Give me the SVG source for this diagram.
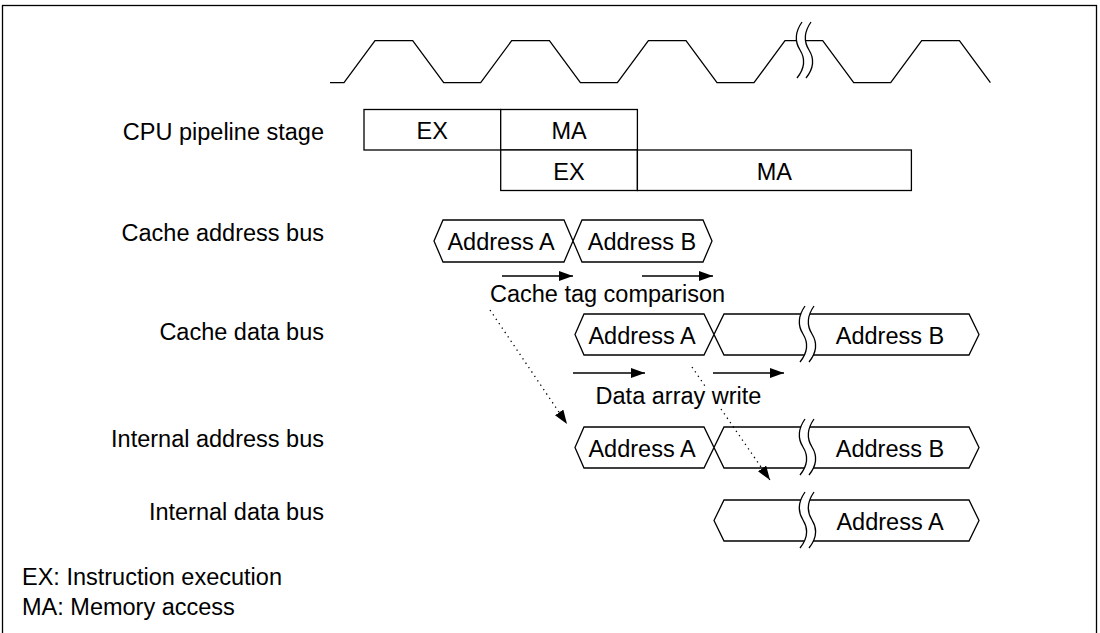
<svg xmlns="http://www.w3.org/2000/svg" width="1100" height="633" viewBox="0 0 1100 633">
<style>
  text { font-family: "Liberation Sans", Arial, sans-serif; font-size: 23.5px; fill: #000; }
  .lbl { text-anchor: end; }
  .c { text-anchor: middle; }
  .ln { fill: none; stroke: #000; stroke-width: 1.3; stroke-linejoin: miter; }
  .box { fill: #fff; stroke: #000; stroke-width: 1.3; }
  .dot { fill: none; stroke: #000; stroke-width: 1.3; stroke-dasharray: 1.3 4; }
  .arr { fill: none; stroke: #000; stroke-width: 1.3; }
</style>
<defs>
  <marker id="ah" viewBox="0 0 14 10" refX="14" refY="5" markerWidth="14" markerHeight="10" markerUnits="userSpaceOnUse" orient="auto">
    <path d="M0,0 L14,5 L0,10 Z" fill="#000"/>
  </marker>
  <g id="brk">
    <path d="M5,0 C-2,10 -2,20 3,28 C8,36 8,46 0,56 L9,56 C17,46 17,36 12,28 C7,20 7,10 14,0 Z" fill="#fff" stroke="none"/>
    <path d="M5,0 C-2,10 -2,20 3,28 C8,36 8,46 0,56" class="ln"/>
    <path d="M14,0 C7,10 7,20 12,28 C17,36 17,46 9,56" class="ln"/>
  </g>
</defs>

<rect x="2.5" y="5.5" width="1094" height="700" fill="none" stroke="#000" stroke-width="1.3"/>

<g id="clock">
  <path class="ln" d="M330,82.7 L344,82.7 L375,40.7 L412.7,40.7 L443.7,82.7 L480.7,82.7 L511.7,40.7 L549.4,40.7 L580.4,82.7 L617.4,82.7 L648.4,40.7 L686,40.7 L717,82.7 L754,82.7 L785,40.7 L822.7,40.7 L853.7,82.7 L890.7,82.7 L921.7,40.7 L959.4,40.7 L990.4,82.7"/>
  <use href="#brk" transform="translate(797,22)"/>
</g>

<g id="labels">
  <text class="lbl" x="324" y="140">CPU pipeline stage</text>
  <text class="lbl" x="324" y="241">Cache address bus</text>
  <text class="lbl" x="324" y="340">Cache data bus</text>
  <text class="lbl" x="324" y="447">Internal address bus</text>
  <text class="lbl" x="324" y="520">Internal data bus</text>
  <text x="22" y="585">EX: Instruction execution</text>
  <text x="22" y="615">MA: Memory access</text>
</g>

<g id="pipeline">
  <g id="ex1"><rect class="box" x="364" y="109.5" width="136.7" height="40.5"/><text class="c" x="432.3" y="139">EX</text></g>
  <g id="ma1"><rect class="box" x="500.7" y="109.5" width="136.7" height="40.5"/><text class="c" x="569" y="139">MA</text></g>
  <g id="ex2"><rect class="box" x="500.7" y="150" width="136.7" height="40.5"/><text class="c" x="569" y="180">EX</text></g>
  <g id="ma2"><rect class="box" x="637.4" y="150" width="274" height="40.5"/><text class="c" x="774.4" y="180">MA</text></g>
</g>

<g id="cache-address-bus">
  <path class="ln" d="M434,241 L443,220 L564,220 L582,262 L703,262 L712,241 L703,220 L582,220 L564,262 L443,262 Z"/>
  <text class="c" x="501" y="250">Address A</text>
  <text class="c" x="642" y="250">Address B</text>
</g>

<g id="cache-data-bus">
  <path class="ln" d="M575,334.5 L584,314 L704,314 L724,355 L969,355 L979,334.5 L969,314 L724,314 L704,355 L584,355 Z"/>
  <use href="#brk" transform="translate(800,306)"/>
  <text class="c" x="642" y="344">Address A</text>
  <text class="c" x="890" y="344">Address B</text>
</g>

<g id="internal-address-bus">
  <path class="ln" d="M575,447.5 L584,427 L704,427 L724,468 L969,468 L979,447.5 L969,427 L724,427 L704,468 L584,468 Z"/>
  <use href="#brk" transform="translate(800,419)"/>
  <text class="c" x="642" y="457">Address A</text>
  <text class="c" x="890" y="457">Address B</text>
</g>

<g id="internal-data-bus">
  <path class="ln" d="M714,520.5 L724,500 L969,500 L979,520.5 L969,541 L724,541 Z"/>
  <use href="#brk" transform="translate(800,492)"/>
  <text class="c" x="890" y="530">Address A</text>
</g>

<g id="connectors">
  <line class="arr" x1="502" y1="276" x2="573" y2="276" marker-end="url(#ah)"/>
  <line class="arr" x1="642" y1="276" x2="713" y2="276" marker-end="url(#ah)"/>
  <line class="arr" x1="573" y1="373" x2="645" y2="373" marker-end="url(#ah)"/>
  <line class="arr" x1="713" y1="373" x2="784" y2="373" marker-end="url(#ah)"/>
  <line class="dot" x1="490" y1="310" x2="567" y2="424" marker-end="url(#ah)"/>
  <line class="dot" x1="692" y1="367" x2="705" y2="386"/>
  <line class="dot" x1="721" y1="409" x2="770" y2="480" marker-end="url(#ah)"/>
</g>

<g id="annotations">
  <text class="c" x="607.5" y="302">Cache tag comparison</text>
  <text class="c" x="678.5" y="404">Data array write</text>
</g>
</svg>
